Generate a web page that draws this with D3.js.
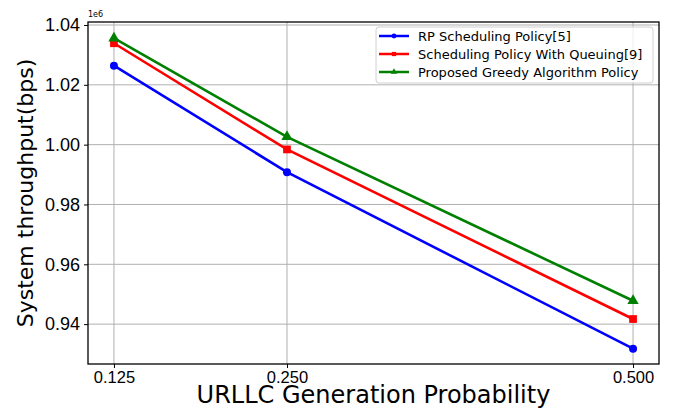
<!DOCTYPE html>
<html>
  <head>
    <meta charset="utf-8" />
    <script src="https://cdn.jsdelivr.net/npm/d3@7"></script>
    <style>
      body {
        margin: 0;
        background: #fff;
        font-family: "DejaVu Sans", sans-serif;
      }
    </style>
  </head>
  <body>
    <script>
      // data
      var probs = [0.125, 0.25, 0.5];
      var rpPolicy = [1.0264e6, 0.9908e6, 0.9318e6];
      var queuingPolicy = [1.0339e6, 0.9984e6, 0.9417e6];
      var greedyPolicy = [1.0356e6, 1.0026e6, 0.9478e6];
      var seriesNames = [
        "RP Scheduling Policy[5]",
        "Scheduling Policy With Queuing[9]",
        "Proposed Greedy Algorithm Policy",
      ];
      var yTicks = [0.94e6, 0.96e6, 0.98e6, 1.0e6, 1.02e6, 1.04e6];

      var series = [
        { name: seriesNames[0], values: rpPolicy, color: "#0000ff", marker: "circle" },
        { name: seriesNames[1], values: queuingPolicy, color: "#ff0000", marker: "square" },
        { name: seriesNames[2], values: greedyPolicy, color: "#008000", marker: "triangle" },
      ];

      var width = 673,
        height = 410;
      // plot box (window.top is reserved, so use other names)
      var plotLeft = 88,
        plotRight = 659,
        plotTop = 22,
        plotBottom = 364;

      var svg = d3
        .select("body")
        .append("svg")
        .attr("width", width)
        .attr("height", height);

      // matplotlib style 5% margins on x
      var span = probs[2] - probs[0];
      var x = d3
        .scaleLinear()
        .domain([probs[0] - span * 0.05, probs[2] + span * 0.05])
        .range([plotLeft, plotRight]);

      var y = d3
        .scaleLinear()
        .domain([0.92667e6, 1.041e6])
        .range([plotBottom, plotTop]);

      // grid
      svg
        .append("g")
        .selectAll("line")
        .data(probs)
        .enter()
        .append("line")
        .attr("x1", function (d) { return x(d); })
        .attr("x2", function (d) { return x(d); })
        .attr("y1", plotTop)
        .attr("y2", plotBottom)
        .attr("stroke", "#b0b0b0")
        .attr("stroke-width", 1);

      svg
        .append("g")
        .selectAll("line")
        .data(yTicks)
        .enter()
        .append("line")
        .attr("x1", plotLeft)
        .attr("x2", plotRight)
        .attr("y1", function (d) { return y(d); })
        .attr("y2", function (d) { return y(d); })
        .attr("stroke", "#b0b0b0")
        .attr("stroke-width", 1);

      // axes
      var xAxis = svg
        .append("g")
        .attr("transform", "translate(0," + plotBottom + ")")
        .call(
          d3.axisBottom(x)
            .tickValues(probs)
            .tickSize(4)
            .tickPadding(3)
            .tickFormat(d3.format(".3f"))
        );
      xAxis.selectAll("text").style("font-size", "16.5px").attr("fill", "#000");

      var yAxis = svg
        .append("g")
        .attr("transform", "translate(" + plotLeft + ",0)")
        .call(
          d3.axisLeft(y)
            .tickValues(yTicks)
            .tickSize(4)
            .tickPadding(4)
            .tickFormat(function (d) { return (d / 1e6).toFixed(2); })
        );
      yAxis.selectAll("text").style("font-size", "18px").attr("fill", "#000");
      svg.selectAll(".domain").remove();
      svg.selectAll(".tick line").attr("stroke", "#000");

      // frame
      svg
        .append("rect")
        .attr("x", plotLeft)
        .attr("y", plotTop)
        .attr("width", plotRight - plotLeft)
        .attr("height", plotBottom - plotTop)
        .attr("fill", "none")
        .attr("stroke", "#000")
        .attr("stroke-width", 1.3);

      svg
        .append("text")
        .attr("x", plotLeft)
        .attr("y", plotTop - 5)
        .style("font-size", "8px")
        .text("1e6");

      // lines
      var line = d3
        .line()
        .x(function (d, i) { return x(probs[i]); })
        .y(function (d) { return y(d); });

      var symbolType = {
        circle: d3.symbolCircle,
        square: d3.symbolSquare,
        triangle: d3.symbolTriangle,
      };
      var symbolSize = { circle: 50, square: 60, triangle: 55 };

      series.forEach(function (s) {
        svg
          .append("path")
          .datum(s.values)
          .attr("d", line)
          .attr("fill", "none")
          .attr("stroke", s.color)
          .attr("stroke-width", 2.6);

        svg
          .append("g")
          .selectAll("path")
          .data(s.values)
          .enter()
          .append("path")
          .attr("d", d3.symbol().type(symbolType[s.marker]).size(symbolSize[s.marker]))
          .attr("transform", function (d, i) {
            return "translate(" + x(probs[i]) + "," + y(d) + ")";
          })
          .attr("fill", s.color);
      });

      // legend
      var legend = svg.append("g").attr("transform", "translate(376,27)");
      legend
        .append("rect")
        .attr("width", 277)
        .attr("height", 56)
        .attr("rx", 3)
        .attr("fill", "#fff")
        .attr("fill-opacity", 0.8)
        .attr("stroke", "#d0d0d0");

      series.forEach(function (s, i) {
        var ly = 9 + i * 18;
        legend
          .append("line")
          .attr("x1", 3)
          .attr("x2", 33)
          .attr("y1", ly)
          .attr("y2", ly)
          .attr("stroke", s.color)
          .attr("stroke-width", 2.5);
        legend
          .append("path")
          .attr("d", d3.symbol().type(symbolType[s.marker]).size(18))
          .attr("transform", "translate(18," + ly + ")")
          .attr("fill", s.color);
        legend
          .append("text")
          .attr("x", 42)
          .attr("y", ly + 4.5)
          .style("font-size", "13px")
          .text(s.name);
      });

      // axis labels
      svg
        .append("text")
        .attr("x", (plotLeft + plotRight) / 2)
        .attr("y", 403)
        .attr("text-anchor", "middle")
        .style("font-size", "24px")
        .text("URLLC Generation Probability");

      svg
        .append("text")
        .attr("transform", "translate(33," + (plotTop + plotBottom) / 2 + ") rotate(-90)")
        .attr("text-anchor", "middle")
        .style("font-size", "22px")
        .text("System throughput(bps)");
    </script>
  </body>
</html>
